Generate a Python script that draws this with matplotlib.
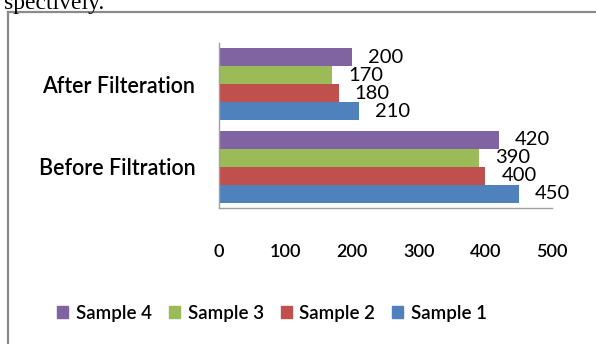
import matplotlib.pyplot as plt
from matplotlib.lines import Line2D
from matplotlib.patches import Patch

categories = ['Before Filtration', 'After Filteration']
series = ['Sample 1', 'Sample 2', 'Sample 3', 'Sample 4']
values = {
    'Sample 1': [450, 210],
    'Sample 2': [400, 180],
    'Sample 3': [390, 170],
    'Sample 4': [420, 200],
}
colors = {
    'Sample 1': '#4F81BD',
    'Sample 2': '#C0504D',
    'Sample 3': '#9BBB59',
    'Sample 4': '#8064A2',
}
xticks = [0, 100, 200, 300, 400, 500]

W, H = 596, 344
plt.rcParams['font.family'] = ['Lato', 'DejaVu Sans']
plt.rcParams['font.weight'] = 'semibold'
fig = plt.figure(figsize=(W / 100, H / 100), dpi=100)

# chart frame (only the top and left edges fall inside the page crop)
fig.add_artist(Line2D([8 / W, 8 / W], [0, 1 - 12 / H], color='#8a8a8a', lw=1.6,
                      transform=fig.transFigure))
fig.add_artist(Line2D([8 / W, 1], [1 - 12 / H, 1 - 12 / H], color='#8a8a8a', lw=1.6,
                      transform=fig.transFigure))
# tail of the document sentence above the chart
fig.text(4 / W, 1 - 9 / H, 'spectively.', family='Liberation Serif', fontsize=17,
         fontweight='normal', ha='left', va='baseline')

ax = fig.add_axes([219 / W, 1 - 208 / H, (552 - 219) / W, (208 - 43) / H])
h = 0.218
for i, s in enumerate(series):
    pos = [c + (i - 1.5) * h for c in range(len(categories))]
    ax.barh(pos, values[s], height=h, color=colors[s], label=s)
    for p, v in zip(pos, values[s]):
        ax.annotate(str(v), xy=(v, p), xytext=(11.5, 0), textcoords='offset points',
                    ha='left', va='center', fontsize=14.5, fontweight='normal')

ax.set_xlim(0, 500)
ax.set_ylim(-0.5, 1.5)
ax.set_xticks(xticks)
ax.set_xticklabels([str(t) for t in xticks])
ax.set_yticks(range(len(categories)))
ax.set_yticklabels(categories)
ax.tick_params(axis='x', length=0, pad=26, labelsize=13)
ax.tick_params(axis='y', length=0, pad=17, labelsize=15.5)
for side in ['top', 'right']:
    ax.spines[side].set_visible(False)
for side in ['left', 'bottom']:
    ax.spines[side].set_color('#a0a0a0')
    ax.spines[side].set_linewidth(1.0)

handles = [Patch(color=colors[s], label=s) for s in series[::-1]]
fig.legend(handles=handles, loc='center', bbox_to_anchor=(272 / W, 1 - 313 / H),
           ncol=4, frameon=False, fontsize=13.5, handlelength=0.6, handleheight=0.6,
           handletextpad=0.4, columnspacing=0.9)

fig.savefig('out.png', dpi=100)
